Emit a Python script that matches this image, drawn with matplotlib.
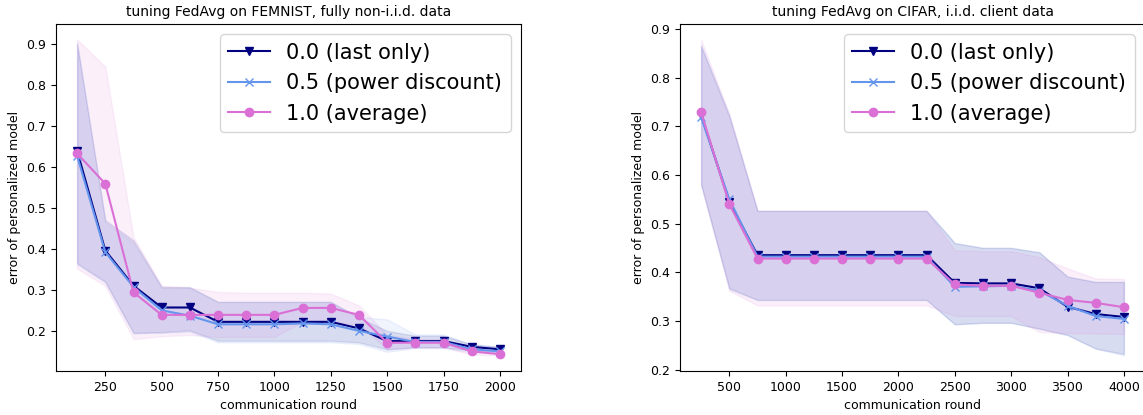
import numpy as np
import matplotlib
matplotlib.use("Agg")
import matplotlib.pyplot as plt

# ---- FEMNIST, fully non-i.i.d. ----
rounds_femnist = [125, 250, 375, 500, 625, 750, 875, 1000, 1125, 1250, 1375, 1500, 1625, 1750, 1875, 2000]

fem_last = [0.639, 0.396, 0.310, 0.257, 0.257, 0.222, 0.222, 0.222, 0.222, 0.222, 0.206, 0.175, 0.175, 0.175, 0.161, 0.155]
fem_last_hi = [0.902, 0.470, 0.421, 0.307, 0.307, 0.271, 0.271, 0.271, 0.271, 0.271, 0.232, 0.200, 0.188, 0.188, 0.167, 0.161]
fem_last_lo = [0.365, 0.320, 0.194, 0.197, 0.201, 0.176, 0.176, 0.176, 0.176, 0.176, 0.172, 0.155, 0.160, 0.160, 0.152, 0.148]

fem_power = [0.627, 0.392, 0.307, 0.250, 0.237, 0.216, 0.216, 0.216, 0.218, 0.216, 0.200, 0.186, 0.173, 0.173, 0.155, 0.150]
fem_power_hi = [0.900, 0.465, 0.415, 0.305, 0.305, 0.270, 0.270, 0.270, 0.270, 0.270, 0.234, 0.228, 0.191, 0.191, 0.167, 0.161]
fem_power_lo = [0.362, 0.318, 0.196, 0.195, 0.198, 0.172, 0.172, 0.172, 0.172, 0.172, 0.168, 0.149, 0.158, 0.158, 0.148, 0.145]

fem_avg = [0.633, 0.559, 0.294, 0.239, 0.239, 0.239, 0.239, 0.239, 0.256, 0.256, 0.239, 0.171, 0.171, 0.171, 0.150, 0.143]
fem_avg_hi = [0.911, 0.845, 0.428, 0.310, 0.305, 0.295, 0.293, 0.293, 0.293, 0.291, 0.262, 0.190, 0.180, 0.180, 0.160, 0.150]
fem_avg_lo = [0.352, 0.310, 0.180, 0.187, 0.190, 0.185, 0.185, 0.185, 0.222, 0.222, 0.215, 0.155, 0.160, 0.160, 0.142, 0.140]

# ---- CIFAR, i.i.d. ----
rounds_cifar = [250, 500, 750, 1000, 1250, 1500, 1750, 2000, 2250, 2500, 2750, 3000, 3250, 3500, 3750, 4000]

cif_last = [0.723, 0.545, 0.435, 0.435, 0.435, 0.435, 0.435, 0.435, 0.435, 0.378, 0.377, 0.377, 0.367, 0.329, 0.314, 0.308]
cif_last_hi = [0.864, 0.720, 0.526, 0.526, 0.526, 0.526, 0.526, 0.526, 0.526, 0.460, 0.450, 0.450, 0.441, 0.391, 0.380, 0.380]
cif_last_lo = [0.580, 0.367, 0.343, 0.343, 0.343, 0.343, 0.343, 0.343, 0.343, 0.293, 0.296, 0.296, 0.284, 0.271, 0.243, 0.232]

cif_power = [0.718, 0.550, 0.432, 0.432, 0.432, 0.432, 0.432, 0.432, 0.432, 0.370, 0.371, 0.372, 0.362, 0.331, 0.310, 0.304]
cif_power_hi = [0.866, 0.722, 0.526, 0.526, 0.526, 0.526, 0.526, 0.526, 0.526, 0.460, 0.450, 0.450, 0.441, 0.391, 0.380, 0.380]
cif_power_lo = [0.578, 0.365, 0.343, 0.343, 0.343, 0.343, 0.343, 0.343, 0.343, 0.293, 0.296, 0.296, 0.284, 0.271, 0.243, 0.229]

cif_avg = [0.729, 0.540, 0.428, 0.428, 0.428, 0.428, 0.428, 0.428, 0.428, 0.375, 0.372, 0.372, 0.358, 0.343, 0.337, 0.328]
cif_avg_hi = [0.877, 0.725, 0.526, 0.526, 0.526, 0.526, 0.526, 0.526, 0.526, 0.445, 0.443, 0.443, 0.431, 0.408, 0.387, 0.386]
cif_avg_lo = [0.580, 0.362, 0.332, 0.332, 0.332, 0.332, 0.332, 0.332, 0.332, 0.310, 0.310, 0.310, 0.277, 0.275, 0.274, 0.273]

labels = ['0.0 (last only)', '0.5 (power discount)', '1.0 (average)']
colors = ['navy', 'cornflowerblue', 'orchid']
markers = ['v', 'x', 'o']


def plot_panel(ax, x, series, title, ylim):
    for (mean, lo, hi), lab, c, m in zip(series, labels, colors, markers):
        ax.fill_between(x, lo, hi, color=c, alpha=0.1, linewidth=1)
        ax.plot(x, mean, color=c, marker=m, label=lab, linewidth=1.5, markersize=6)
    ax.set_title(title, fontsize=10)
    ax.set_xlabel('communication round', fontsize=9)
    ax.set_ylabel('error of personalized model', fontsize=9)
    ax.tick_params(labelsize=9)
    ax.set_ylim(ylim)
    ax.legend(loc='upper right', fontsize=15)


fig = plt.figure(figsize=(11.43, 4.15), dpi=100)
ax1 = fig.add_axes([56 / 1143, 44 / 415, 465 / 1143, 347 / 415])
ax2 = fig.add_axes([680 / 1143, 44 / 415, 465 / 1143, 347 / 415])

plot_panel(ax1, rounds_femnist,
           [(fem_last, fem_last_lo, fem_last_hi),
            (fem_power, fem_power_lo, fem_power_hi),
            (fem_avg, fem_avg_lo, fem_avg_hi)],
           'tuning FedAvg on FEMNIST, fully non-i.i.d. data', (0.102, 0.949))
ax1.set_xticks([250, 500, 750, 1000, 1250, 1500, 1750, 2000])

plot_panel(ax2, rounds_cifar,
           [(cif_last, cif_last_lo, cif_last_hi),
            (cif_power, cif_power_lo, cif_power_hi),
            (cif_avg, cif_avg_lo, cif_avg_hi)],
           'tuning FedAvg on CIFAR, i.i.d. client data', (0.197, 0.910))
ax2.set_xticks([500, 1000, 1500, 2000, 2500, 3000, 3500, 4000])

fig.savefig('out.png', dpi=100)
